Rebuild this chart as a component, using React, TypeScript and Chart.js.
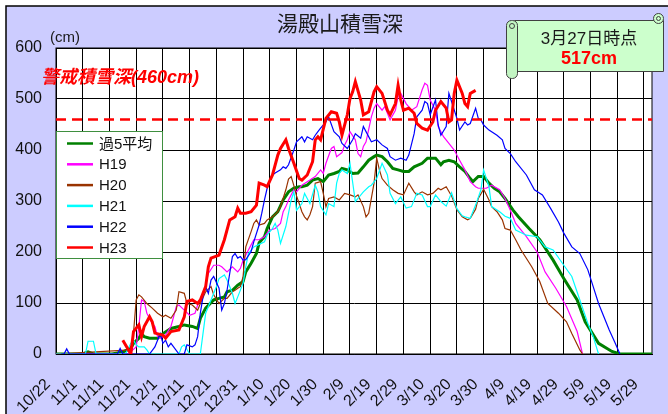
import React, { useEffect, useRef } from 'react';
import { Chart, registerables } from 'chart.js';

Chart.register(...registerables);

// Tick labels every 10 days starting 10/22 (day 0)
const xLabels = ['10/22', '11/1', '11/11', '11/21', '12/1', '12/11', '12/21', '12/31', '1/10', '1/20', '1/30', '2/9', '2/19', '2/29', '3/10', '3/20', '3/30', '4/9', '4/19', '4/29', '5/9', '5/19', '5/29'];

const seriesNames = ['過5平均', 'H19', 'H20', 'H21', 'H22', 'H23'];
const seriesColors = ['#008000', '#FF00FF', '#993300', '#00FFFF', '#0000FF', '#FF0000'];

// [day offset from 10/22, snow depth cm]
const avg5: number[][] = [[0,0],[10,0],[12,4],[14,0],[21,0],[23,2],[25,4],[28,11],[29,21],[31,31],[32,40],[33,34],[35,31],[38,31],[40,40],[43,50],[46,54],[48,57],[51,54],[53,50],[54,70],[56,90],[59,106],[61,109],[63,112],[64,122],[66,125],[68,135],[70,142],[71,161],[73,178],[75,197],[76,218],[78,230],[79,246],[81,269],[83,279],[85,302],[87,318],[89,325],[91,328],[92,328],[94,331],[96,341],[98,344],[100,338],[102,351],[104,354],[106,358],[107,364],[109,361],[111,354],[113,355],[115,367],[117,380],[119,387],[120,390],[122,387],[124,377],[126,364],[128,361],[130,358],[132,358],[134,367],[137,374],[139,384],[142,384],[144,371],[145,377],[147,380],[149,377],[151,367],[153,358],[155,344],[156,338],[158,348],[160,348],[162,335],[164,325],[166,318],[168,305],[171,282],[173,269],[177,246],[181,224],[186,184],[190,148],[195,106],[198,63],[203,21],[208,5],[211,0],[223,0]];

const h19: number[][] = [[0,0],[27,0],[30,14],[31,54],[32,106],[33,103],[34,80],[36,60],[37,54],[38,34],[39,31],[41,37],[43,54],[44,73],[45,93],[46,96],[48,86],[50,76],[52,80],[53,96],[55,119],[56,135],[57,158],[59,174],[61,174],[62,171],[64,161],[66,171],[68,161],[69,168],[70,184],[72,204],[73,214],[74,224],[76,224],[78,230],[79,237],[80,243],[82,246],[84,256],[85,279],[86,289],[87,302],[89,322],[90,318],[92,331],[95,341],[97,348],[99,361],[100,354],[101,374],[103,403],[104,407],[105,387],[107,395],[108,410],[109,420],[110,436],[112,420],[113,393],[114,387],[115,407],[116,416],[118,465],[119,482],[120,491],[122,478],[123,485],[125,459],[127,478],[128,505],[129,511],[131,491],[133,478],[135,485],[137,518],[138,531],[139,527],[140,498],[142,478],[143,446],[145,426],[147,413],[149,400],[151,380],[153,361],[155,338],[157,328],[158,325],[161,325],[163,331],[166,322],[168,305],[170,282],[172,256],[176,230],[180,200],[183,161],[187,129],[191,93],[195,44],[197,0]];

const h20: number[][] = [[0,0],[28,8],[29,41],[30,106],[31,116],[32,112],[34,99],[36,90],[38,80],[40,73],[41,76],[43,70],[45,86],[46,122],[48,119],[49,99],[51,96],[53,86],[54,99],[56,122],[58,132],[59,116],[61,99],[63,109],[64,109],[66,122],[67,125],[68,129],[69,132],[70,152],[71,210],[73,240],[74,256],[75,263],[76,253],[78,256],[79,263],[81,269],[83,279],[84,289],[86,322],[87,343],[88,348],[89,330],[90,310],[91,295],[92,279],[93,269],[94,263],[95,273],[96,289],[97,335],[99,338],[100,315],[101,289],[102,305],[104,308],[106,302],[108,315],[110,312],[112,308],[113,312],[115,289],[116,269],[117,276],[119,335],[120,384],[121,361],[122,344],[124,331],[126,322],[128,315],[130,312],[132,335],[134,318],[135,312],[137,318],[139,312],[141,315],[143,325],[144,322],[146,328],[148,310],[150,283],[152,269],[154,263],[155,266],[157,284],[158,305],[160,323],[162,302],[163,289],[165,279],[167,263],[168,246],[170,243],[172,224],[174,204],[178,171],[181,142],[184,99],[188,80],[191,63],[193,40],[196,8],[197,0]];

const h21: number[][] = [[0,0],[11,0],[12,25],[14,25],[15,0],[26,0],[28,21],[29,27],[30,18],[31,14],[33,14],[34,8],[35,0],[46,0],[47,14],[48,18],[50,0],[54,0],[55,40],[56,80],[58,106],[60,132],[61,148],[63,155],[64,145],[66,119],[67,99],[68,112],[70,139],[71,171],[72,197],[74,210],[76,215],[78,220],[79,233],[81,246],[82,256],[83,243],[84,217],[86,250],[87,276],[88,302],[89,318],[90,282],[92,295],[93,315],[94,305],[95,295],[97,331],[98,318],[99,289],[101,273],[102,295],[104,289],[105,335],[106,354],[107,361],[109,354],[110,374],[112,299],[115,318],[117,328],[118,331],[120,344],[122,374],[124,351],[125,315],[127,295],[129,308],[131,286],[133,289],[135,315],[137,312],[139,289],[140,289],[142,312],[144,299],[146,290],[148,316],[150,285],[152,271],[153,269],[155,266],[157,292],[159,322],[160,361],[162,328],[163,289],[166,279],[168,270],[170,266],[172,243],[176,233],[180,230],[183,210],[186,204],[190,174],[193,152],[196,106],[199,60],[201,34],[203,0]];

const h22: number[][] = [[2,0],[3,0],[4,10],[5,0],[23,0],[24,11],[25,0],[35,0],[37,14],[38,27],[39,40],[40,21],[41,27],[42,14],[43,21],[44,14],[46,0],[48,0],[49,18],[51,14],[52,18],[53,34],[54,80],[55,112],[56,132],[57,119],[58,145],[59,152],[61,129],[62,86],[63,99],[64,125],[66,191],[67,197],[68,188],[69,191],[70,184],[71,185],[73,201],[74,220],[76,253],[77,276],[78,302],[79,325],[81,351],[82,355],[84,361],[85,367],[86,364],[87,371],[89,400],[90,416],[92,426],[93,416],[94,426],[96,420],[97,429],[98,436],[99,443],[101,455],[102,465],[104,436],[106,426],[107,413],[109,403],[111,420],[112,432],[114,423],[115,446],[116,436],[118,416],[120,420],[122,410],[124,403],[125,387],[127,380],[129,384],[131,380],[132,390],[134,432],[135,465],[137,478],[138,495],[139,491],[140,469],[142,498],[143,449],[144,429],[146,446],[147,511],[148,495],[150,462],[151,439],[153,455],[154,449],[155,452],[157,482],[158,462],[159,459],[160,449],[162,439],[165,429],[167,420],[168,403],[170,393],[172,377],[176,351],[179,322],[182,312],[185,286],[188,259],[190,237],[193,210],[196,197],[199,165],[201,132],[203,99],[205,73],[207,47],[209,24],[211,0]];

const h23: number[][] = [[25,27],[28,0],[29,44],[31,57],[32,34],[33,54],[35,73],[36,63],[37,41],[40,37],[41,31],[43,44],[46,47],[48,73],[49,103],[51,106],[53,99],[54,106],[56,132],[57,171],[58,188],[61,194],[63,224],[65,263],[67,269],[68,286],[69,276],[71,276],[73,279],[75,292],[76,335],[78,331],[79,328],[81,351],[83,390],[84,403],[86,420],[87,403],[89,374],[91,344],[92,341],[94,351],[96,377],[97,420],[98,426],[99,420],[101,462],[103,475],[105,472],[106,455],[107,429],[109,469],[110,501],[111,514],[112,534],[114,498],[115,469],[117,475],[119,514],[120,524],[122,511],[124,478],[125,469],[127,491],[128,527],[129,498],[130,478],[132,482],[134,472],[135,452],[137,443],[139,439],[141,455],[142,478],[144,495],[146,482],[147,455],[148,459],[149,511],[150,537],[152,511],[153,491],[154,485],[155,511],[157,517]];

const seriesData = [avg5, h19, h20, h21, h22, h23];
const seriesWidths = [3, 1.2, 1.2, 1.2, 1.2, 3];

const alertLevel = 460;
const alertText = '警戒積雪深(460cm)';
const titleText = '湯殿山積雪深';
const calloutDate = '3月27日時点';
const calloutValue = '517cm';
const unitText = '(cm)';

const FONT = '"Liberation Sans", "Noto Sans CJK JP", Arial, sans-serif';
const JFONT = '"Noto Sans CJK JP", "Liberation Sans", sans-serif';

const decorPlugin = {
  id: 'decor',
  beforeDraw(chart: any) {
    const { ctx, chartArea: a, width, height } = chart;
    ctx.save();
    ctx.fillStyle = '#ffffff';
    ctx.fillRect(0, 0, width, height);
    ctx.fillStyle = '#CCCCFF';
    ctx.fillRect(6, 6, width - 6, height - 6);
    ctx.strokeStyle = '#000';
    ctx.lineWidth = 1.5;
    ctx.beginPath();
    ctx.moveTo(6, height);
    ctx.lineTo(6, 6);
    ctx.lineTo(width, 6);
    ctx.stroke();
    ctx.fillStyle = '#ffffff';
    ctx.fillRect(a.left, a.top, a.right - a.left, a.bottom - a.top);
    ctx.restore();
  },
  beforeDatasetsDraw(chart: any) {
    const { ctx, chartArea: a } = chart;
    ctx.save();
    ctx.strokeStyle = '#000';
    ctx.lineWidth = 1;
    ctx.strokeRect(a.left, a.top, a.right - a.left, a.bottom - a.top);
    ctx.restore();
  },
  afterDatasetsDraw(chart: any) {
    const { ctx, chartArea: a, scales } = chart;
    const y = scales.y.getPixelForValue(alertLevel);
    ctx.save();
    ctx.strokeStyle = '#FF0000';
    ctx.lineWidth = 2.5;
    ctx.setLineDash([10, 6]);
    ctx.beginPath();
    ctx.moveTo(a.left, y);
    ctx.lineTo(a.right, y);
    ctx.stroke();
    ctx.setLineDash([]);

    // legend box
    const lx = 56.5, ly = 131.5, lw = 106, lh = 127;
    ctx.fillStyle = '#ffffff';
    ctx.fillRect(lx, ly, lw, lh);
    ctx.strokeStyle = '#3f8f3f';
    ctx.lineWidth = 1;
    ctx.strokeRect(lx, ly, lw, lh);
    ctx.font = '15px ' + FONT;
    ctx.textBaseline = 'middle';
    ctx.textAlign = 'left';
    seriesNames.forEach((name, i) => {
      const cy = 143.5 + i * 20.8;
      ctx.strokeStyle = seriesColors[i];
      ctx.lineWidth = 2.5;
      ctx.beginPath();
      ctx.moveTo(67, cy);
      ctx.lineTo(93, cy);
      ctx.stroke();
      ctx.fillStyle = '#111';
      ctx.fillText(name, 99, cy + 1);
    });
    ctx.restore();
  },
  afterDraw(chart: any) {
    const { ctx } = chart;
    ctx.save();
    // title
    ctx.fillStyle = '#1a1a1a';
    ctx.font = '21px ' + JFONT;
    ctx.textAlign = 'center';
    ctx.textBaseline = 'middle';
    ctx.fillText(titleText, 340, 23);
    // unit
    ctx.font = '15px ' + FONT;
    ctx.textAlign = 'left';
    ctx.fillText(unitText, 50, 38);
    // alert text
    ctx.fillStyle = '#FF0000';
    ctx.font = 'italic bold 18px ' + FONT;
    ctx.fillText(alertText, 41, 78);

    // callout scroll
    ctx.fillStyle = '#CCFFCC';
    ctx.strokeStyle = '#404040';
    ctx.lineWidth = 1;
    ctx.beginPath();
    ctx.rect(514.5, 20.5, 149, 51);
    ctx.fill();
    ctx.stroke();
    ctx.beginPath();
    ctx.arc(658.5, 18.5, 5, 0, Math.PI * 2);
    ctx.fill();
    ctx.stroke();
    ctx.beginPath();
    ctx.arc(658.5, 18.5, 2, 0, Math.PI * 2);
    ctx.stroke();
    ctx.beginPath();
    ctx.roundRect(506.5, 20.5, 11, 58, 5);
    ctx.fillStyle = '#C2F5C2';
    ctx.fill();
    ctx.stroke();
    ctx.beginPath();
    ctx.arc(512, 26, 2.5, 0, Math.PI * 2);
    ctx.stroke();

    ctx.fillStyle = '#1a1a1a';
    ctx.font = '17px ' + FONT;
    ctx.textAlign = 'center';
    ctx.textBaseline = 'middle';
    ctx.fillText(calloutDate, 589, 39);
    ctx.fillStyle = '#FF0000';
    ctx.font = 'bold 18px ' + FONT;
    ctx.fillText(calloutValue, 589, 59);
    ctx.restore();
  },
};

export default function App() {
  const ref = useRef<HTMLCanvasElement | null>(null);
  useEffect(() => {
    if (!ref.current) return;
    const datasets = seriesData
      .map((pts, i) => ({
        label: seriesNames[i],
        data: pts.map(([d, v]) => ({ x: d, y: v })),
        borderColor: seriesColors[i],
        backgroundColor: seriesColors[i],
        borderWidth: seriesWidths[i],
        pointRadius: 0,
        tension: 0,
        fill: false,
      }))
      .reverse();
    const chart = new Chart(ref.current, {
      type: 'line',
      data: { datasets },
      options: {
        animation: false,
        responsive: false,
        devicePixelRatio: 1,
        layout: { padding: { left: 0, top: 48, right: 16, bottom: 0 } },
        plugins: { legend: { display: false }, tooltip: { enabled: false }, title: { display: false } },
        scales: {
          x: {
            type: 'linear',
            min: 0,
            max: 223,
            afterFit: (s: any) => { s.height = 60; },
            grid: { color: '#000', lineWidth: 1, drawTicks: true, tickLength: 19, tickColor: 'rgba(0,0,0,0)' },
            border: { display: true, color: '#000', width: 1 },
            ticks: {
              stepSize: 10,
              includeBounds: false,
              autoSkip: false,
              minRotation: 45,
              maxRotation: 45,
              padding: 2,
              labelOffset: -8,
              color: '#111',
              font: { size: 16, family: FONT },
              callback: (v: any) => xLabels[Math.round(Number(v) / 10)] ?? '',
            },
          },
          y: {
            min: 0,
            max: 600,
            afterFit: (s: any) => { s.width = 56; },
            grid: { color: '#000', lineWidth: 1, drawTicks: false },
            border: { display: true, color: '#000', width: 1 },
            ticks: {
              stepSize: 100,
              padding: 14,
              color: '#111',
              font: { size: 16, family: FONT },
            },
          },
        },
      },
      plugins: [decorPlugin],
    } as any);
    return () => chart.destroy();
  }, []);
  return (
    <div style={{ position: 'fixed', left: 0, top: 0, width: 668, height: 414 }}>
      <canvas ref={ref} width={668} height={414} style={{ display: 'block' }} />
    </div>
  );
}
